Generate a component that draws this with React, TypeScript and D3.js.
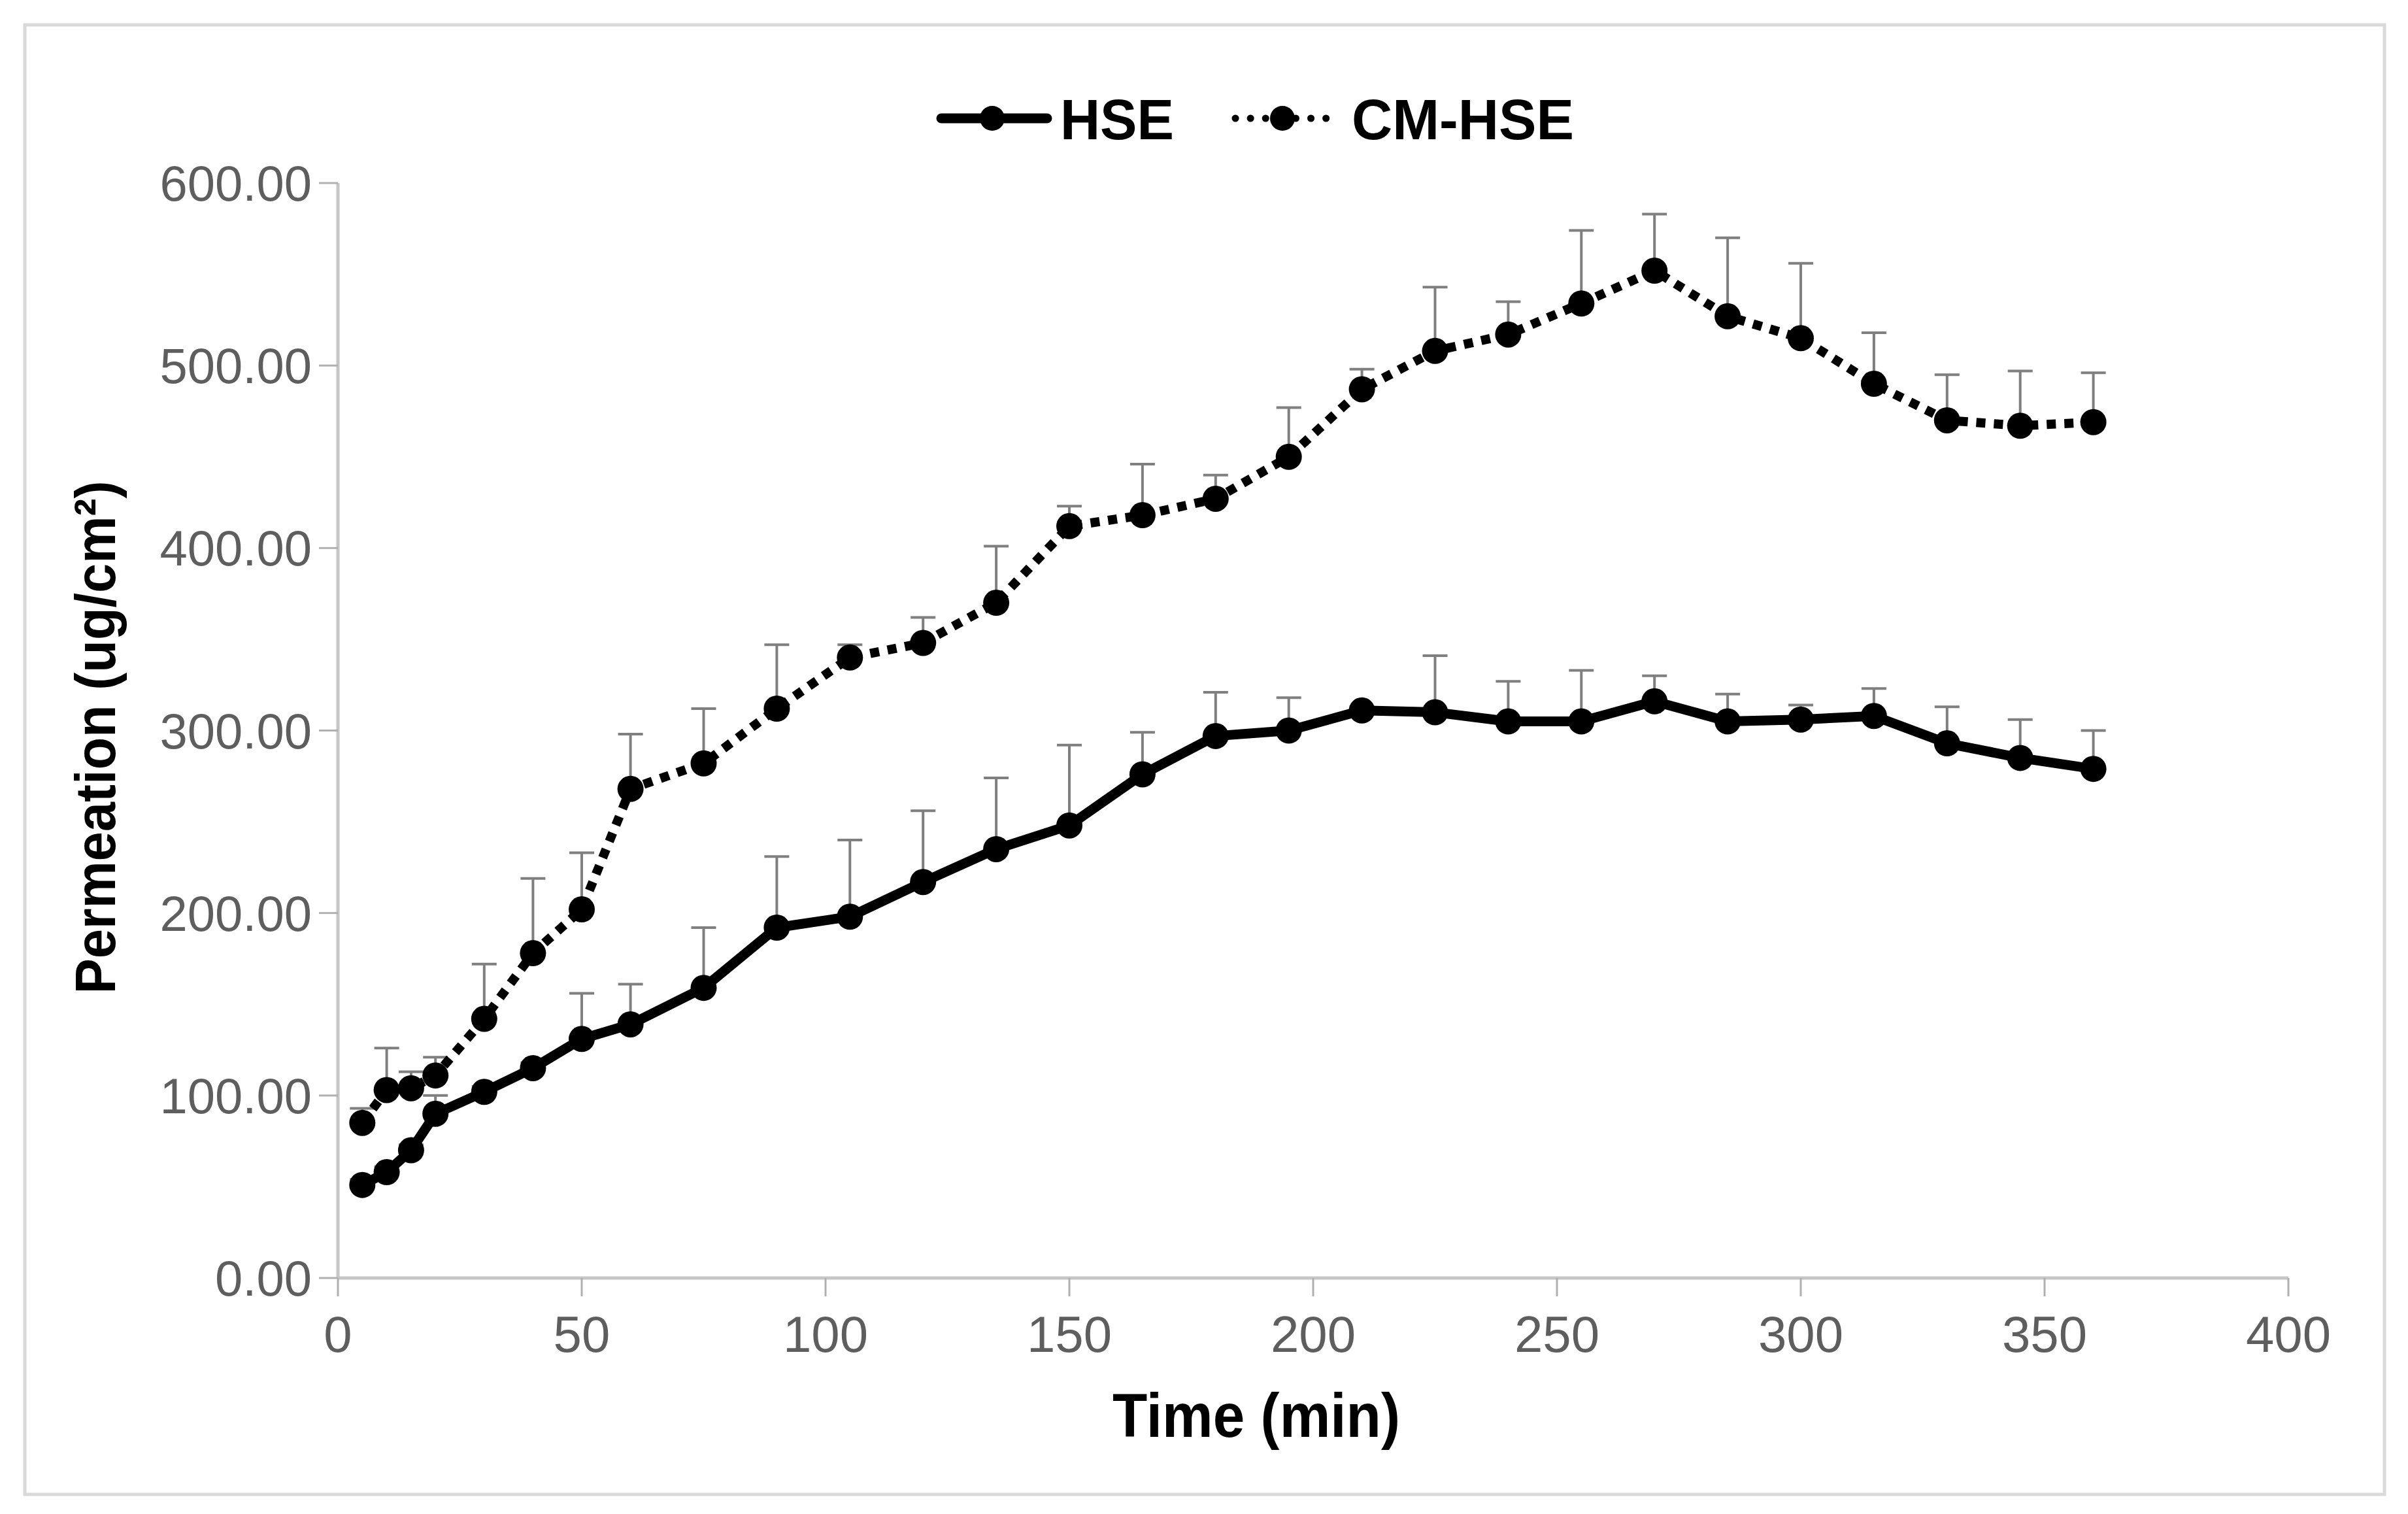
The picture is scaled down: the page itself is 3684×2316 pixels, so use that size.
import * as d3 from 'd3'

const TIMES = [5, 10, 15, 20, 30, 40, 50, 60, 75, 90, 105, 120, 135, 150, 165, 180, 195, 210, 225, 240, 255, 270, 285, 300, 315, 330, 345, 360]

const HSE_MEAN = [51, 58, 70, 90, 102, 115, 131, 139, 159, 192, 198, 217, 235, 248, 276, 297, 300, 311, 310, 305, 305, 316, 305, 306, 308, 293, 285, 279]
const HSE_TOP = [54, 61, 73, 100, 105, 118, 156, 161, 192, 231, 240, 256, 274, 292, 299, 321, 318, 313, 341, 327, 333, 330, 320, 314, 323, 313, 306, 300]

const CM_MEAN = [85, 103, 104, 111, 142, 178, 202, 268, 282, 312, 340, 348, 370, 412, 418, 427, 450, 487, 508, 517, 534, 552, 527, 515, 490, 470, 467, 469]
const CM_TOP = [93, 126, 113, 121, 172, 219, 233, 298, 312, 347, 347, 362, 401, 423, 446, 440, 477, 498, 543, 535, 574, 583, 570, 556, 518, 495, 497, 496]

const Y_TICKS = [0, 100, 200, 300, 400, 500, 600]
const X_TICKS = [0, 50, 100, 150, 200, 250, 300, 350, 400]

const W = 3684
const H = 2316
const FONT = '"Liberation Sans", Arial, sans-serif'

export default function App() {
  const x = d3.scaleLinear().domain([0, 400]).range([517, 3501])
  const y = d3.scaleLinear().domain([0, 600]).range([1955, 280])

  const hse = TIMES.map((t, i) => ({ t, v: HSE_MEAN[i], top: HSE_TOP[i] }))
  const cm = TIMES.map((t, i) => ({ t, v: CM_MEAN[i], top: CM_TOP[i] }))

  const line = d3
    .line<{ t: number; v: number }>()
    .x((d) => x(d.t))
    .y((d) => y(d.v))

  const errBars = (data: typeof hse, key: string) =>
    data.map((d, i) => (
      <g key={key + i} stroke="#7f7f7f" strokeWidth={4}>
        <line x1={x(d.t)} x2={x(d.t)} y1={y(d.v)} y2={y(d.top)} />
        <line x1={x(d.t) - 19} x2={x(d.t) + 19} y1={y(d.top)} y2={y(d.top)} />
      </g>
    ))

  const dots = (data: typeof hse, key: string) =>
    data.map((d, i) => <circle key={key + i} cx={x(d.t)} cy={y(d.v)} r={20} fill="#000" />)

  return (
    <svg
      width={W}
      height={H}
      style={{ position: 'absolute', left: 0, top: 0, background: '#fff' }}
      fontFamily={FONT}
    >
      <rect x={0} y={0} width={W} height={H} fill="#fff" />
      <rect x={38} y={38} width={3610} height={2248} fill="none" stroke="#d9d9d9" strokeWidth={5} />

      {/* legend */}
      <g>
        <line x1={1440} x2={1602} y1={181} y2={181} stroke="#000" strokeWidth={15} strokeLinecap="round" />
        <circle cx={1518} cy={181} r={19} fill="#000" />
        <text x={1622} y={213} fontSize={88} fontWeight="bold" fill="#000" textLength={174} lengthAdjust="spacingAndGlyphs">HSE</text>
        <line x1={1890} x2={2044} y1={181} y2={181} stroke="#000" strokeWidth={11} strokeLinecap="round" strokeDasharray="0.1 23" />
        <circle cx={1962} cy={181} r={19} fill="#000" />
        <text x={2068} y={213} fontSize={88} fontWeight="bold" fill="#000" textLength={340} lengthAdjust="spacingAndGlyphs">CM-HSE</text>
      </g>

      {/* axes */}
      <line x1={x(0)} x2={x(0)} y1={y(600)} y2={y(0)} stroke="#c6c6c6" strokeWidth={5} />
      <line x1={x(0)} x2={x(400)} y1={y(0)} y2={y(0)} stroke="#c6c6c6" strokeWidth={5} />
      {Y_TICKS.map((t) => (
        <g key={'y' + t}>
          <line x1={x(0) - 29} x2={x(0)} y1={y(t)} y2={y(t)} stroke="#b0b0b0" strokeWidth={3} />
          <text x={477} y={y(t) + 27} textAnchor="end" fontSize={76} fill="#5e5e5e">
            {t.toFixed(2)}
          </text>
        </g>
      ))}
      {X_TICKS.map((t) => (
        <g key={'x' + t}>
          <line x1={x(t)} x2={x(t)} y1={y(0)} y2={y(0) + 28} stroke="#b0b0b0" strokeWidth={3} />
          <text x={x(t)} y={2068} textAnchor="middle" fontSize={78} fill="#5e5e5e">
            {t}
          </text>
        </g>
      ))}

      <text x={1922} y={2198} textAnchor="middle" fontSize={94} fontWeight="bold" fill="#000" textLength={440} lengthAdjust="spacingAndGlyphs">
        Time (min)
      </text>
      <text
        transform={`translate(176,1128) rotate(-90)`}
        textAnchor="middle"
        fontSize={88}
        fontWeight="bold"
        fill="#000"
        textLength={785}
        lengthAdjust="spacingAndGlyphs"
      >
        Permeation (ug/cm²)
      </text>

      {/* error bars */}
      {errBars(cm, 'ec')}
      {errBars(hse, 'eh')}

      {/* series */}
      <path d={line(cm) ?? ''} fill="none" stroke="#000" strokeWidth={14} strokeDasharray="14 13" />
      <path d={line(hse) ?? ''} fill="none" stroke="#000" strokeWidth={15} strokeLinejoin="round" />
      {dots(cm, 'dc')}
      {dots(hse, 'dh')}
    </svg>
  )
}
